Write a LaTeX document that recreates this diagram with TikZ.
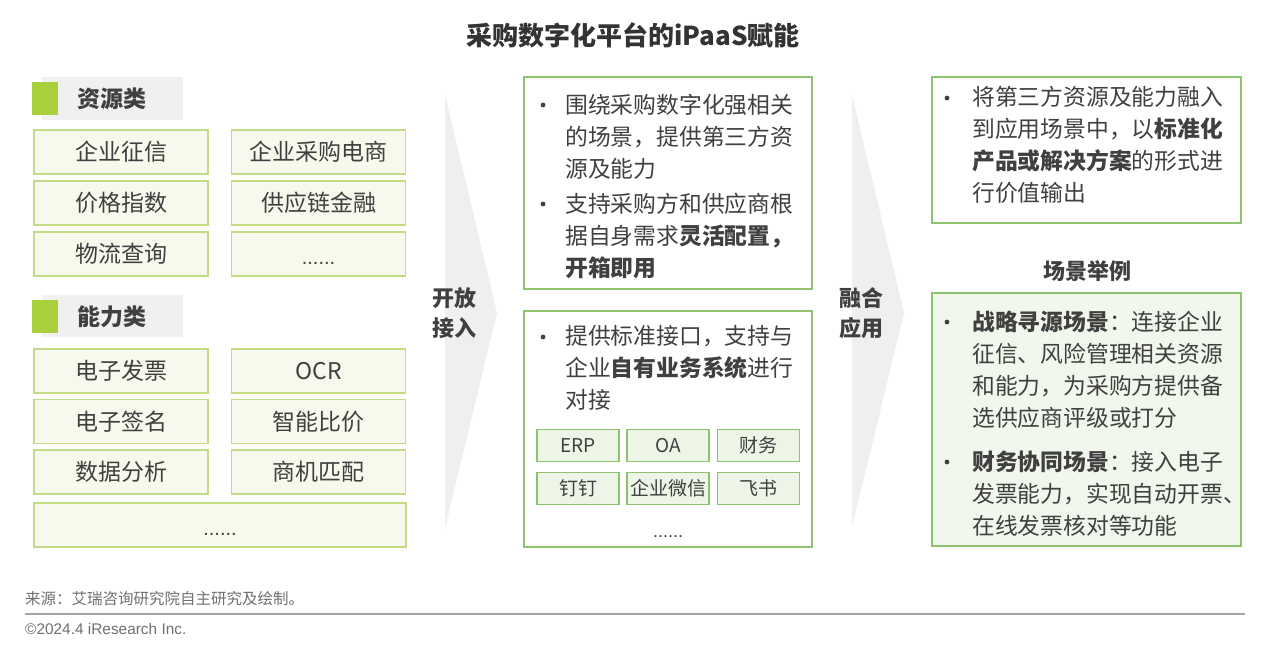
\documentclass[tikz,border=0pt]{standalone}
\usepackage{fontspec}
\setmainfont{Noto Sans CJK SC}
\newfontfamily\latf{Liberation Sans}
\definecolor{txt}{HTML}{404040}
\definecolor{ttl}{HTML}{333333}
\definecolor{lbord}{HTML}{C3DC84}
\definecolor{lfill}{HTML}{F6F9EC}
\definecolor{gbord}{HTML}{8DC36E}
\definecolor{sfill}{HTML}{EDF5E6}
\definecolor{rfill}{HTML}{F1F7EC}
\definecolor{hgreen}{HTML}{A8CF3C}
\definecolor{hgray}{HTML}{F0F0F0}
\definecolor{chev}{HTML}{EFEFEF}
\definecolor{foot}{HTML}{707070}
\definecolor{rule}{HTML}{A6A6A6}
\tikzset{
  lbox/.style={draw=lbord, fill=lfill, line width=1.3pt, minimum width=174, minimum height=44,
    inner sep=0, text=txt, font=\fontsize{23}{26}\selectfont},
  gframe/.style={draw=gbord, line width=1.3pt, fill=white, inner sep=0},
  sbox/.style={draw=gbord, fill=sfill, line width=1.5pt, minimum width=82, minimum height=32,
    inner sep=0, text=txt, font=\fontsize{19}{22}\selectfont},
  hdr/.style={text=txt, font=\bfseries\fontsize{23}{26}\selectfont, inner sep=0},
  para/.style={anchor=north west, align=left, inner sep=0, text=txt, font=\fontsize{22.8}{32}\selectfont},
  bul/.style={fill=txt},
  dots/.style={text=txt, inner sep=0, anchor=base, font=\latf\fontsize{20}{22}\selectfont},
  chlab/.style={align=center, text=txt, font=\bfseries\fontsize{22}{30}\selectfont, inner sep=0},
}
\begin{document}
\begin{tikzpicture}[x=1pt,y=-1pt]
\useasboundingbox (0,0) rectangle (1267,650);
\fill[white] (0,0) rectangle (1267,650);
% title
\node[text=ttl, font=\bfseries\fontsize{26}{30}\selectfont] (title) at (633,35) {采购数字化平台的iPaaS赋能};
% chevrons
\fill[chev] (445,95) -- (497,313) -- (445,528) -- cycle;
\fill[chev] (852,95) -- (904,313) -- (852,527) -- cycle;
\node[chlab] (kf) at (454,313) {开放\\接入};
\node[chlab] (rh) at (861,313) {融合\\应用};
% left header 1
\fill[hgray] (42,77) rectangle (183,120);
\fill[hgreen] (32,82) rectangle (58,115);
\node[hdr] (h1) at (112,99) {资源类};
\node[lbox] (a1) at (121,152) {企业征信};
\node[lbox] (a2) at (318.5,152) {企业采购电商};
\node[lbox] (a3) at (121,203) {价格指数};
\node[lbox] (a4) at (318.5,203) {供应链金融};
\node[lbox] (a5) at (121,254) {物流查询};
\node[lbox] (a6) at (318.5,254) {};
\node[dots] (a6d) at (318.5,264) {......};
% left header 2
\fill[hgray] (42,295) rectangle (183,337);
\fill[hgreen] (32,300) rectangle (58,333);
\node[hdr] (h2) at (112,317) {能力类};
\node[lbox] (b1) at (121,371) {电子发票};
\node[lbox] (b2) at (318.5,371) {OCR};
\node[lbox] (b3) at (121,421.5) {电子签名};
\node[lbox] (b4) at (318.5,421.5) {智能比价};
\node[lbox] (b5) at (121,472) {数据分析};
\node[lbox] (b6) at (318.5,472) {商机匹配};
\node[lbox, minimum width=372] (b7) at (220,525) {};
\node[dots] (b7d) at (220,535) {......};
% middle top
\node[gframe, minimum width=288, minimum height=212] (m1) at (668,183) {};
\fill[bul] (543,105) circle (2.4);
\node[para] (m1t1) at (565,93.5) {围绕采购数字化强相关\\的场景，提供第三方资\\源及能力};
\fill[bul] (543,204) circle (2.4);
\node[para] (m1t2) at (565,192.5) {支持采购方和供应商根\\据自身需求\textbf{灵活配置，}\\\textbf{开箱即用}};
% middle bottom
\node[gframe, minimum width=288, minimum height=236] (m2) at (668,429) {};
\fill[bul] (543,337) circle (2.4);
\node[para] (m2t1) at (565,325.5) {提供标准接口，支持与\\企业\textbf{自有业务系统}进行\\对接};
\node[sbox] (s1) at (578,445.5) {ERP};
\node[sbox] (s2) at (668,445.5) {OA};
\node[sbox] (s3) at (758.5,445.5) {财务};
\node[sbox] (s4) at (578,488.5) {钉钉};
\node[sbox] (s5) at (668,488.5) {企业微信};
\node[sbox] (s6) at (758.5,488.5) {飞书};
\node[dots, font=\latf\fontsize{18}{20}\selectfont] (m2dots) at (668,537) {......};
% right top
\node[gframe, minimum width=309, minimum height=146] (r1) at (1086.5,150) {};
\fill[bul] (947,98) circle (2.4);
\node[para] (r1t1) at (972,86.5) {将第三方资源及能力融入\\到应用场景中，以\textbf{标准化}\\\textbf{产品或解决方案}的形式进\\行价值输出};
% scenario title
\node[hdr, font=\bfseries\fontsize{22}{26}\selectfont] (sc) at (1087,271) {场景举例};
% right bottom
\node[gframe, fill=rfill, minimum width=309, minimum height=253] (r2) at (1086.5,419.5) {};
\fill[bul] (947,322) circle (2.4);
\node[para] (r2t1) at (972,310.5) {\textbf{战略寻源场景}：连接企业\\征信、风险管理相关资源\\和能力，为采购方提供备\\选供应商评级或打分};
\fill[bul] (947,462) circle (2.4);
\node[para] (r2t2) at (972,450.5) {\textbf{财务协同场景}：接入电子\\发票能力，实现自动开票、\\在线发票核对等功能};
% footer
\node[anchor=west, text=foot, inner sep=0, font=\fontsize{15.5}{18}\selectfont] (src) at (25,599) {来源：艾瑞咨询研究院自主研究及绘制。};
\coordinate (rl) at (25,614);
\coordinate (rr) at (1245,614);
\draw[rule, line width=1.3pt] (rl) -- (rr);
\node[anchor=west, text=foot, inner sep=0, font=\latf\fontsize{15.4}{18}\selectfont] (cp) at (25,629) {©2024.4 iResearch Inc.};
\end{tikzpicture}
\end{document}
